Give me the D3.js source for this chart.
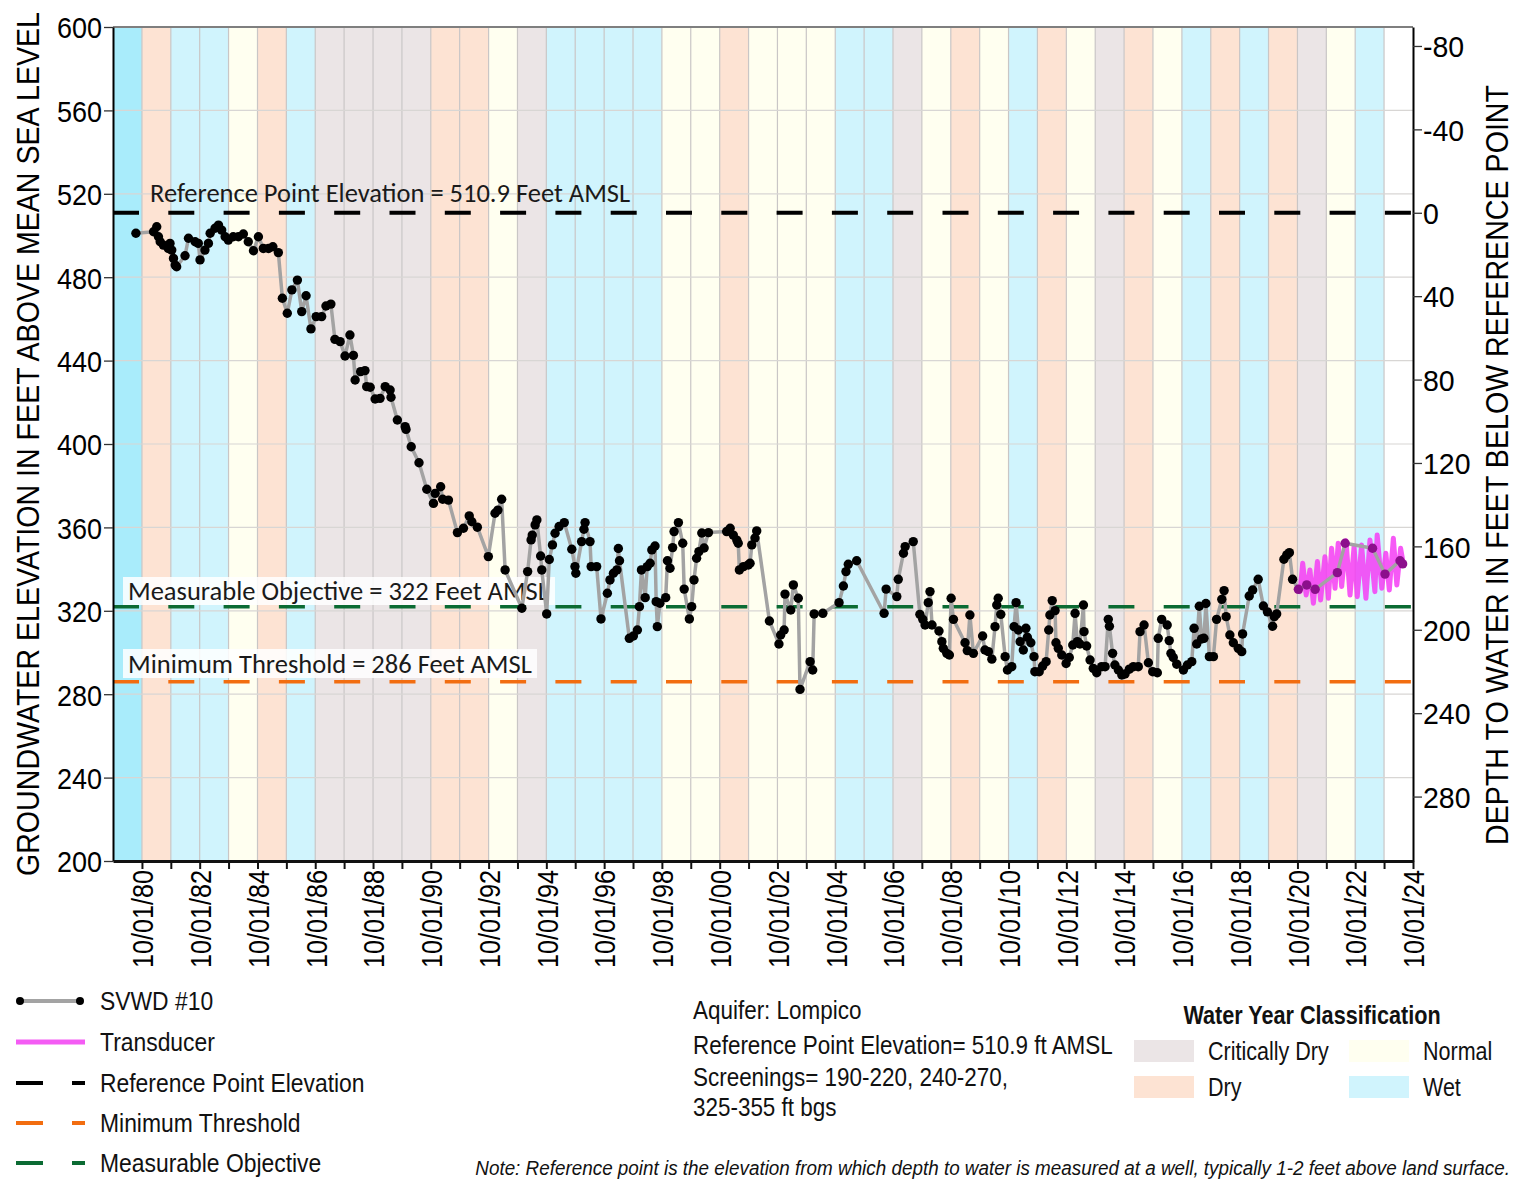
<!DOCTYPE html>
<html>
<head>
<meta charset="utf-8">
<script src="https://cdn.jsdelivr.net/npm/d3@7"></script>
<style>
  body { margin: 0; background: #fff; }
  svg { display: block; }
</style>
</head>
<body>
<svg id="chart" width="1517" height="1180"></svg>
<script>
// reference levels (feet AMSL)
var REF_ELEV = 510.9;
var MO_ELEV = 322;
var MT_ELEV = 286;

// water year classes, WY1980 .. WY2024
var waterYears = d3.range(1980, 2025);
var waterYearClass = [
  "Wet", "Dry", "Wet", "Wet", "Normal", "Dry", "Wet", "Critically Dry", "Critically Dry", "Critically Dry",
  "Critically Dry", "Dry", "Dry", "Normal", "Critically Dry", "Wet", "Wet", "Wet", "Wet", "Normal",
  "Normal", "Dry", "Normal", "Normal", "Normal", "Wet", "Wet", "Critically Dry", "Normal", "Dry",
  "Normal", "Wet", "Dry", "Normal", "Critically Dry", "Dry", "Normal", "Wet", "Dry", "Wet",
  "Dry", "Critically Dry", "Normal", "Wet", ""
];

// SVWD #10 manual measurements (decimal year, elevation ft AMSL)
var wellYear = [
  1980.54, 1981.15, 1981.26, 1981.32, 1981.38, 1981.49, 1981.66, 1981.72, 1981.78, 1981.84, 1981.90, 1981.95,
  1982.24, 1982.36, 1982.59, 1982.70, 1982.76, 1982.93, 1983.05, 1983.11, 1983.28, 1983.40, 1983.51, 1983.63,
  1983.74, 1983.91, 1984.09, 1984.26, 1984.43, 1984.61, 1984.78, 1984.95, 1985.13, 1985.28, 1985.47, 1985.61,
  1985.78, 1985.94, 1986.13, 1986.28, 1986.43, 1986.60, 1986.78, 1986.97, 1987.12, 1987.29, 1987.43, 1987.61,
  1987.78, 1987.95, 1988.07, 1988.13, 1988.32, 1988.47, 1988.53, 1988.65, 1988.82, 1988.99, 1989.17, 1989.34,
  1989.37, 1989.59, 1989.86, 1989.89, 1990.07, 1990.34, 1990.61, 1990.84, 1990.90, 1991.09, 1991.16, 1991.36,
  1991.67, 1991.88, 1992.08, 1992.17, 1992.36, 1992.74, 1992.97, 1993.07, 1993.20, 1993.32, 1993.90, 1994.10,
  1994.22, 1994.26, 1994.36, 1994.42, 1994.55, 1994.59, 1994.76, 1994.85, 1994.96, 1995.05, 1995.19, 1995.37,
  1995.63, 1995.74, 1995.77, 1995.97, 1996.05, 1996.09, 1996.26, 1996.30, 1996.49, 1996.64, 1996.86, 1996.95,
  1997.07, 1997.19, 1997.24, 1997.28, 1997.62, 1997.76, 1997.90, 1997.97, 1998.04, 1998.17, 1998.24, 1998.34,
  1998.40, 1998.51, 1998.55, 1998.59, 1998.68, 1998.88, 1998.94, 1999.03, 1999.12, 1999.17, 1999.32, 1999.47,
  1999.52, 1999.70, 1999.78, 1999.86, 1999.95, 2000.03, 2000.13, 2000.21, 2000.36, 2000.99, 2001.11, 2001.22,
  2001.34, 2001.39, 2001.43, 2001.57, 2001.74, 2001.80, 2001.86, 2001.97, 2002.03, 2002.47, 2002.80, 2002.86,
  2002.98, 2003.01, 2003.21, 2003.30, 2003.47, 2003.53, 2003.88, 2003.97, 2004.02, 2004.32, 2004.88, 2005.03,
  2005.12, 2005.20, 2005.49, 2006.44, 2006.51, 2006.88, 2006.93, 2007.11, 2007.17, 2007.45, 2007.68, 2007.78,
  2007.86, 2007.97, 2008.03, 2008.10, 2008.34, 2008.44, 2008.49, 2008.61, 2008.70, 2008.76, 2008.84, 2009.24,
  2009.32, 2009.41, 2009.53, 2009.85, 2009.93, 2010.05, 2010.17, 2010.28, 2010.34, 2010.39, 2010.48, 2010.63,
  2010.71, 2010.86, 2010.94, 2011.01, 2011.09, 2011.15, 2011.26, 2011.35, 2011.40, 2011.52, 2011.63, 2011.66,
  2011.81, 2011.93, 2012.05, 2012.14, 2012.18, 2012.26, 2012.36, 2012.39, 2012.47, 2012.59, 2012.74, 2012.85,
  2012.97, 2013.05, 2013.13, 2013.22, 2013.34, 2013.36, 2013.45, 2013.57, 2013.68, 2013.80, 2013.97, 2014.09,
  2014.20, 2014.24, 2014.35, 2014.43, 2014.55, 2014.67, 2014.78, 2014.93, 2015.07, 2015.24, 2015.30, 2015.44,
  2015.59, 2015.74, 2015.90, 2015.93, 2016.05, 2016.24, 2016.31, 2016.37, 2016.45, 2016.57, 2016.80, 2016.94,
  2017.09, 2017.17, 2017.26, 2017.35, 2017.43, 2017.51, 2017.58, 2017.70, 2017.84, 2017.95, 2018.13, 2018.21,
  2018.28, 2018.41, 2018.53, 2018.70, 2018.82, 2018.85, 2019.08, 2019.20, 2019.39, 2019.57, 2019.71, 2019.89,
  2019.95, 2020.03, 2020.28, 2020.38, 2020.47, 2020.58, 2020.78, 2021.07, 2021.36, 2022.13, 2022.40, 2023.35,
  2023.78, 2024.30, 2024.39
];
var wellElev = [
  501.1, 501.8, 504.2, 499.4, 497.0, 495.4, 493.8, 496.2, 493.0, 489.0, 485.8, 485.0,
  490.3, 498.7, 497.0, 496.2, 488.3, 493.0, 496.2, 501.1, 503.5, 505.0, 502.6, 499.4,
  497.8, 499.4, 499.4, 500.7, 497.0, 492.7, 499.4, 493.8, 493.8, 494.6, 491.8, 469.9,
  462.7, 473.9, 478.6, 463.5, 471.1, 455.2, 461.1, 461.1, 466.2, 467.1, 450.2, 449.1,
  442.2, 452.3, 442.5, 430.7, 434.7, 435.2, 427.5, 427.2, 421.6, 421.9, 427.5, 425.9,
  422.4, 411.5, 408.3, 407.0, 398.7, 391.0, 378.3, 371.5, 376.3, 379.5, 373.5, 373.1,
  357.5, 359.6, 365.5, 362.7, 360.1, 346.0, 366.8, 368.3, 373.5, 339.6, 321.2, 338.8,
  354.0, 356.3, 361.2, 363.6, 346.3, 339.6, 318.5, 344.6, 351.6, 357.2, 360.4, 362.3,
  349.5, 341.2, 338.0, 353.2, 359.1, 362.3, 353.2, 341.2, 341.2, 316.1, 328.4, 334.8,
  338.0, 339.6, 349.9, 344.0, 306.8, 307.9, 310.8, 322.0, 339.6, 326.3, 341.2, 342.8,
  349.2, 351.1, 324.4, 312.4, 323.6, 326.3, 344.0, 340.4, 350.3, 358.0, 362.3, 352.4,
  330.4, 316.1, 322.0, 334.8, 345.2, 348.4, 357.3, 350.1, 357.5, 358.0, 359.6, 356.3,
  353.9, 352.4, 339.6, 341.2, 342.0, 342.8, 351.6, 354.9, 358.3, 315.1, 304.1, 308.4,
  310.8, 328.0, 320.4, 332.4, 326.0, 282.3, 295.6, 291.6, 318.5, 318.8, 323.9, 331.9,
  338.8, 342.3, 344.0, 318.8, 330.4, 326.8, 335.1, 347.6, 350.8, 353.2, 318.3, 315.9,
  313.2, 323.9, 329.2, 313.2, 310.3, 305.2, 302.0, 299.6, 298.8, 326.0, 315.9, 304.7,
  300.9, 318.0, 299.6, 307.9, 301.2, 300.4, 296.8, 312.4, 322.8, 326.0, 318.3, 298.0,
  291.6, 293.2, 312.4, 323.9, 310.8, 305.2, 301.2, 311.6, 307.3, 304.7, 298.0, 290.8,
  290.8, 293.5, 295.6, 310.8, 318.0, 324.9, 320.1, 304.7, 302.0, 298.8, 294.7, 297.6,
  303.6, 318.8, 305.2, 304.1, 322.8, 310.0, 303.1, 296.4, 292.4, 290.3, 293.2, 293.2,
  315.9, 312.6, 299.6, 294.0, 291.6, 289.2, 289.7, 292.0, 293.2, 293.2, 310.0, 313.2,
  295.1, 290.8, 290.3, 306.8, 315.9, 313.2, 305.7, 299.6, 297.6, 294.4, 291.6, 294.0,
  295.6, 311.6, 304.1, 322.2, 306.5, 306.8, 323.5, 298.0, 298.0, 315.9, 325.5, 329.7,
  317.2, 308.4, 304.7, 302.0, 300.4, 308.9, 327.1, 330.0, 335.1, 322.3, 319.5, 312.6,
  317.2, 318.5, 344.7, 346.8, 347.9, 335.1, 330.3, 332.4, 330.3, 338.3, 352.4, 350.0,
  337.6, 344.0, 342.5
];

// transducer record (peaks and troughs)
var xdcrYear = [
  2020.78, 2020.84, 2020.93, 2021.05, 2021.18, 2021.30, 2021.44, 2021.55, 2021.70, 2021.82, 2021.93, 2022.05,
  2022.16, 2022.28, 2022.43, 2022.57, 2022.71, 2022.82, 2022.97, 2023.12, 2023.26, 2023.43, 2023.51, 2023.67,
  2023.81, 2023.93, 2024.07, 2024.19, 2024.32, 2024.41
];
var xdcrElev = [
  330.3, 329.2, 342.8, 327.6, 339.6, 323.6, 343.6, 325.2, 345.9, 326.0, 350.0, 330.8,
  352.4, 331.6, 353.6, 327.6, 350.8, 326.8, 351.6, 326.0, 354.0, 329.2, 356.4, 330.8,
  347.6, 330.0, 354.8, 332.4, 350.0, 342.8
];

var leftTicks = d3.range(200, 601, 40);
var rightTicks = d3.range(-80, 281, 40);
var dateTickYears = d3.range(1980, 2025, 2);

var SANS = "'Liberation Sans', Arial, sans-serif";
var CALIBRI = "Carlito, Lato, 'Open Sans', sans-serif";

var classColor = {
  "Critically Dry": "#ebe5e6",
  "Dry": "#fde3d3",
  "Normal": "#fffff0",
  "Wet": "#d0f4fd",
  "": "#ffffff"
};

function toDate(v) {
  var yr = Math.floor(v);
  var a = new Date(yr, 0, 1), b = new Date(yr + 1, 0, 1);
  return new Date(+a + (v - yr) * (b - a));
}

var svg = d3.select("#chart");
var pL = 113, pR = 1413, pT = 27, pB = 861;

var x = d3.scaleTime()
  .domain([new Date(1979, 9, 1), new Date(2024, 9, 1)])
  .range([pL, pR]);
var y = d3.scaleLinear().domain([200, 600]).range([pB, pT]);
var yDepth = d3.scaleLinear().domain([REF_ELEV - 200, REF_ELEV - 600]).range([pB, pT]);

//water year bands
svg.append("g").selectAll("rect")
  .data(waterYears)
  .enter().append("rect")
  .attr("x", function (d) { return x(new Date(d - 1, 9, 1)); })
  .attr("y", pT)
  .attr("width", function (d) { return x(new Date(d, 9, 1)) - x(new Date(d - 1, 9, 1)); })
  .attr("height", pB - pT)
  .attr("fill", function (d, i) { return i === 0 ? "#a9ecfb" : classColor[waterYearClass[i]]; });

//grid
var grid = svg.append("g").attr("stroke-width", 1.2);
grid.selectAll("line.v")
  .data(d3.range(1980, 2024))
  .enter().append("line")
  .attr("x1", function (d) { return x(new Date(d, 9, 1)); })
  .attr("x2", function (d) { return x(new Date(d, 9, 1)); })
  .attr("y1", pT).attr("y2", pB)
  .attr("stroke", "#c9c6c6");
grid.selectAll("line.h")
  .data(leftTicks.slice(1, -1))
  .enter().append("line")
  .attr("x1", pL).attr("x2", pR)
  .attr("y1", function (d) { return y(d); })
  .attr("y2", function (d) { return y(d); })
  .attr("stroke", "#d8d6d4");

//label boxes and reference lines
function refLabel(txt, tx, ty, box) {
  if (box) {
    svg.append("rect")
      .attr("x", box[0]).attr("y", box[1]).attr("width", box[2]).attr("height", box[3])
      .attr("fill", "#fff").attr("fill-opacity", 0.85);
  }
  svg.append("text")
    .attr("x", tx).attr("y", ty)
    .attr("font-family", CALIBRI).attr("font-size", 26.5).attr("fill", "#1a1a1a")
    .text(txt);
}
refLabel("Reference Point Elevation = 510.9 Feet AMSL", 150, 202, null);
refLabel("Measurable Objective = 322 Feet AMSL", 128, 600, [123, 577, 432, 28]);
refLabel("Minimum Threshold = 286 Feet AMSL", 128, 673, [123, 649, 414, 29]);

function refLine(v, color, w) {
  svg.append("line")
    .attr("x1", pL).attr("x2", pR)
    .attr("y1", y(v)).attr("y2", y(v))
    .attr("stroke", color).attr("stroke-width", w)
    .attr("stroke-dasharray", "26,29.3");
}
refLine(REF_ELEV, "#000", 4);
refLine(MO_ELEV, "#0b6b33", 3.5);
refLine(MT_ELEV, "#f26d10", 3.5);

//transducer
var xdcr = xdcrYear.map(function (d, i) { return { date: toDate(d), v: xdcrElev[i] }; });
svg.append("path")
  .datum(xdcr)
  .attr("d", d3.line().x(function (d) { return x(d.date); }).y(function (d) { return y(d.v); }))
  .attr("fill", "none").attr("stroke", "#f43cf4").attr("stroke-width", 5)
  .attr("stroke-opacity", 0.85).attr("stroke-linejoin", "round");

//SVWD #10
var well = wellYear.map(function (d, i) { return { year: d, date: toDate(d), v: wellElev[i] }; });
svg.append("path")
  .datum(well)
  .attr("d", d3.line().x(function (d) { return x(d.date); }).y(function (d) { return y(d.v); }))
  .attr("fill", "none").attr("stroke", "#a3a3a3").attr("stroke-width", 3.5)
  .attr("stroke-linejoin", "round");
svg.append("g").selectAll("circle")
  .data(well)
  .enter().append("circle")
  .attr("cx", function (d) { return x(d.date); })
  .attr("cy", function (d) { return y(d.v); })
  .attr("r", 4.7)
  .attr("fill", function (d) { return d.year >= xdcrYear[0] ? "#8c0f8c" : "#000"; });

//frame
svg.append("line").attr("x1", pL).attr("x2", pR).attr("y1", pT).attr("y2", pT)
  .attr("stroke", "#7f7f7f").attr("stroke-width", 2);

//axes
var plain = function (d) { return String(d); };
var axL = svg.append("g").attr("transform", "translate(" + pL + ",0)");
axL.call(d3.axisLeft(y).tickValues(d3.range(200, 601, 4)).tickSize(5).tickFormat(""));
axL.call(d3.axisLeft(y).tickValues(leftTicks).tickSize(9).tickSizeOuter(0).tickFormat(plain));
axL.selectAll("path.domain").attr("stroke", "#000").attr("stroke-width", 2);
axL.selectAll("line").attr("stroke", "#333").attr("stroke-width", 1.3);
axL.selectAll("text").attr("class", "nar").attr("data-k", 0.9)
  .attr("font-family", SANS).attr("font-size", 30).attr("fill", "#000")
  .attr("x", -11).attr("dy", "0.36em");

var axR = svg.append("g").attr("transform", "translate(" + pR + ",0)");
axR.call(d3.axisRight(yDepth).tickValues(d3.range(-88, 311, 4)).tickSize(5).tickFormat(""));
axR.call(d3.axisRight(yDepth).tickValues(rightTicks).tickSize(9).tickSizeOuter(0).tickFormat(plain));
axR.selectAll("path.domain").attr("stroke", "#000").attr("stroke-width", 2);
axR.selectAll("line").attr("stroke", "#333").attr("stroke-width", 1.3);
axR.selectAll("text").attr("class", "nar").attr("data-k", 0.95)
  .attr("font-family", SANS).attr("font-size", 30).attr("fill", "#000")
  .attr("x", 10).attr("dy", "0.36em");

var axB = svg.append("g").attr("transform", "translate(0," + pB + ")");
axB.call(d3.axisBottom(x)
  .tickValues(d3.range(1980, 2025).map(function (d) { return new Date(d, 9, 1); }))
  .tickSize(8).tickSizeOuter(0)
  .tickFormat(function (d) { return dateTickYears.indexOf(d.getFullYear()) >= 0 ? d3.timeFormat("%m/%d/%y")(d) : ""; }));
axB.selectAll("path.domain").attr("stroke", "#111").attr("stroke-width", 3);
axB.selectAll("line").attr("stroke", "#111").attr("stroke-width", 2);
axB.selectAll("text")
  .attr("class", "nar").attr("data-k", 0.84)
  .attr("font-family", SANS).attr("font-size", 30).attr("fill", "#000")
  .attr("transform", "rotate(-90)")
  .attr("x", -9).attr("y", 0).attr("dy", "0.36em")
  .style("text-anchor", "end");

//axis titles
svg.append("text")
  .attr("transform", "translate(39,444) rotate(-90)")
  .attr("text-anchor", "middle")
  .attr("font-family", SANS).attr("font-size", 31)
  .attr("textLength", 864).attr("lengthAdjust", "spacingAndGlyphs")
  .text("GROUNDWATER ELEVATION IN FEET ABOVE MEAN SEA LEVEL");
svg.append("text")
  .attr("transform", "translate(1508,465) rotate(-90)")
  .attr("text-anchor", "middle")
  .attr("font-family", SANS).attr("font-size", 31)
  .attr("textLength", 760).attr("lengthAdjust", "spacingAndGlyphs")
  .text("DEPTH TO WATER IN FEET BELOW REFERENCE POINT");

//legend
var leg = svg.append("g").attr("font-family", SANS).attr("font-size", 26).attr("fill", "#111");
var legY = [1001, 1042, 1083, 1123, 1163];
var legItems = [
  { name: "SVWD #10", color: "#a3a3a3", w: 4, dash: null },
  { name: "Transducer", color: "#f45cf4", w: 5, dash: null },
  { name: "Reference Point Elevation", color: "#000", w: 4, dash: "27,29" },
  { name: "Minimum Threshold", color: "#f26d10", w: 4, dash: "27,29" },
  { name: "Measurable Objective", color: "#0b6b33", w: 4, dash: "27,29" }
];
legItems.forEach(function (d, i) {
  var ln = leg.append("line")
    .attr("x1", i === 0 ? 20 : 16).attr("x2", i === 0 ? 80 : 85)
    .attr("y1", legY[i]).attr("y2", legY[i])
    .attr("stroke", d.color).attr("stroke-width", d.w);
  if (d.dash) ln.attr("stroke-dasharray", d.dash);
  if (i === 0) {
    leg.append("circle").attr("cx", 20).attr("cy", legY[i]).attr("r", 4).attr("fill", "#000");
    leg.append("circle").attr("cx", 80).attr("cy", legY[i]).attr("r", 4).attr("fill", "#000");
  }
  leg.append("text").attr("class", "nar").attr("data-k", 0.88)
    .attr("x", 100).attr("y", legY[i]).attr("dy", "0.36em").text(d.name);
});

//well info
var info = ["Aquifer: Lompico", "Reference Point Elevation= 510.9 ft AMSL",
  "Screenings= 190-220, 240-270,", "325-355 ft bgs"];
var infoY = [1010, 1045, 1077, 1107];
svg.append("g").selectAll("text")
  .data(info)
  .enter().append("text")
  .attr("class", "nar").attr("data-k", 0.88)
  .attr("x", 693).attr("y", function (d, i) { return infoY[i]; })
  .attr("dy", "0.36em")
  .attr("font-family", SANS).attr("font-size", 25.5).attr("fill", "#111")
  .text(function (d) { return d; });

//water year legend
svg.append("text").attr("class", "nar").attr("data-k", 0.865)
  .attr("x", 1312).attr("y", 1015).attr("dy", "0.36em")
  .attr("text-anchor", "middle").attr("font-family", SANS).attr("font-size", 25)
  .attr("font-weight", "bold").attr("fill", "#111").text("Water Year Classification");
var wyLeg = [
  { c: "Critically Dry", x: 1134, y: 1051 },
  { c: "Normal", x: 1349, y: 1051 },
  { c: "Dry", x: 1134, y: 1087 },
  { c: "Wet", x: 1349, y: 1087 }
];
wyLeg.forEach(function (d) {
  svg.append("rect").attr("x", d.x).attr("y", d.y - 11).attr("width", 60).attr("height", 22)
    .attr("fill", classColor[d.c]);
  svg.append("text").attr("class", "nar").attr("data-k", 0.86)
    .attr("x", d.x + 74).attr("y", d.y).attr("dy", "0.36em")
    .attr("font-family", SANS).attr("font-size", 25).attr("fill", "#111").text(d.c);
});

svg.append("text").attr("class", "nar").attr("data-k", 0.92)
  .attr("x", 1510).attr("y", 1168).attr("dy", "0.36em")
  .attr("text-anchor", "end").attr("font-family", SANS).attr("font-size", 20.5)
  .attr("font-style", "italic").attr("fill", "#111")
  .text("Note: Reference point is the elevation from which depth to water is measured at a well, typically 1-2 feet above land surface.");

// squeeze texts to look like a narrow face
svg.selectAll("text.nar").each(function () {
  var t = d3.select(this);
  var w = this.getComputedTextLength();
  if (w > 0) t.attr("textLength", w * (+t.attr("data-k"))).attr("lengthAdjust", "spacingAndGlyphs");
});
</script>
</body>
</html>
